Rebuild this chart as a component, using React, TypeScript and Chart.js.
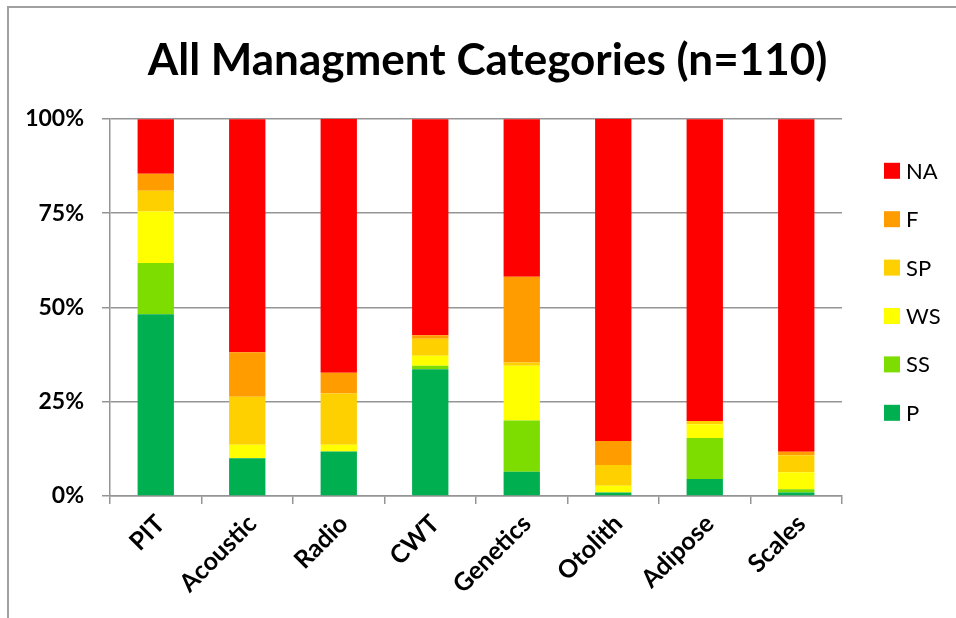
import React, { useEffect, useRef } from "react";
import { Chart, registerables } from "chart.js";

Chart.register(...registerables);

const categories = ["PIT", "Acoustic", "Radio", "CWT", "Genetics", "Otolith", "Adipose", "Scales"];
const seriesNames = ["P", "SS", "WS", "SP", "F", "NA"];
const P = [48.2, 10.0, 11.8, 33.6, 6.4, 0.9, 4.5, 0.9];
const SS = [13.6, 0, 0, 0.9, 13.6, 0, 10.9, 0.9];
const WS = [13.6, 3.6, 1.8, 2.7, 14.5, 1.8, 3.6, 4.5];
const SP = [5.5, 12.7, 13.6, 4.5, 0.9, 5.5, 0.9, 4.5];
const F = [4.5, 11.8, 5.5, 0.9, 22.7, 6.4, 0, 0.9];
const NA = [14.5, 61.8, 67.3, 57.3, 41.8, 85.5, 80.0, 88.2];
const yTicks = [0, 25, 50, 75, 100];
const titleText = "All Managment Categories (n=110)";

const seriesValues = [P, SS, WS, SP, F, NA];
const seriesColors = ["#00AF50", "#7DDC00", "#FFFF00", "#FFD000", "#FF9C00", "#FF0000"];

const FONT = "Lato, 'Liberation Sans', sans-serif";

const customLegend = {
  id: "customLegend",
  afterDraw(chart: any) {
    const ctx = chart.ctx;
    const area = chart.chartArea;
    const ds = chart.data.datasets.slice().reverse();
    ctx.save();
    ctx.font = `22px ${FONT}`;
    ctx.textBaseline = "middle";
    ctx.textAlign = "left";
    ds.forEach((d: any, i: number) => {
      const cy = area.top + 52 + i * 48.4;
      const bx = area.right + 42;
      ctx.fillStyle = d.backgroundColor;
      ctx.fillRect(bx, cy - 8, 16, 16);
      ctx.fillStyle = "#000";
      ctx.fillText(d.label, bx + 22, cy + 1);
    });
    ctx.restore();
  },
};

export default function App() {
  const ref = useRef<HTMLCanvasElement | null>(null);
  useEffect(() => {
    if (!ref.current) return;
    const chart = new Chart(ref.current, {
      type: "bar",
      data: {
        labels: categories,
        datasets: seriesNames.map((name, i) => ({
          label: name,
          data: seriesValues[i],
          backgroundColor: seriesColors[i],
          borderWidth: 0,
          categoryPercentage: 1,
          barPercentage: 0.397,
        })),
      },
      options: {
        responsive: false,
        animation: false,
        layout: { padding: { left: 19, right: 0, top: 0, bottom: 0 } },
        plugins: {
          legend: { display: false },
          tooltip: { enabled: false },
          title: {
            display: true,
            text: titleText,
            color: "#000",
            font: { family: FONT, size: 44, weight: "bold", lineHeight: 1.2 },
            padding: { top: 34, bottom: 32 },
          },
        },
        scales: {
          x: {
            stacked: true,
            grid: {
              display: true,
              offset: true,
              drawOnChartArea: false,
              drawTicks: true,
              tickLength: 8,
              color: "#959595",
              lineWidth: 1.5,
            },
            border: { display: true, color: "#959595", width: 1.5 },
            ticks: {
              minRotation: 45,
              maxRotation: 45,
              padding: 5,
              labelOffset: 5,
              color: "#000",
              font: { family: FONT, size: 25, weight: "bold" },
            },
            afterFit(scale: any) {
              scale.height = 122;
            },
          },
          y: {
            stacked: true,
            min: 0,
            max: 100,
            afterBuildTicks(scale: any) {
              scale.ticks = yTicks.map((v) => ({ value: v }));
            },
            ticks: {
              padding: 18,
              color: "#000",
              font: { family: FONT, size: 23, weight: "bold" },
              callback: (v: any) => `${v}%`,
            },
            grid: {
              color: "#959595",
              lineWidth: 1.5,
              tickLength: 8,
              drawTicks: true,
            },
            border: { display: true, color: "#959595", width: 1.5 },
            afterFit(scale: any) {
              scale.width = 91;
            },
          },
          spacer: {
            type: "linear",
            position: "right",
            display: true,
            grid: { display: false, drawTicks: false },
            border: { display: false },
            ticks: { display: false },
            afterFit(scale: any) {
              scale.width = 114;
            },
          },
        },
      },
      plugins: [customLegend],
    } as any);
    return () => chart.destroy();
  }, []);

  return (
    <div style={{ position: "absolute", left: 0, top: 0, width: 956, height: 618, background: "#fff" }}>
      <canvas ref={ref} width={956} height={618} style={{ width: 956, height: 618, display: "block" }} />
      <div
        style={{
          position: "absolute",
          left: 7,
          top: 6,
          width: 949,
          height: 612,
          borderLeft: "2px solid #a0a0a0",
          borderTop: "2px solid #a0a0a0",
          boxSizing: "border-box",
          pointerEvents: "none",
        }}
      />
    </div>
  );
}
